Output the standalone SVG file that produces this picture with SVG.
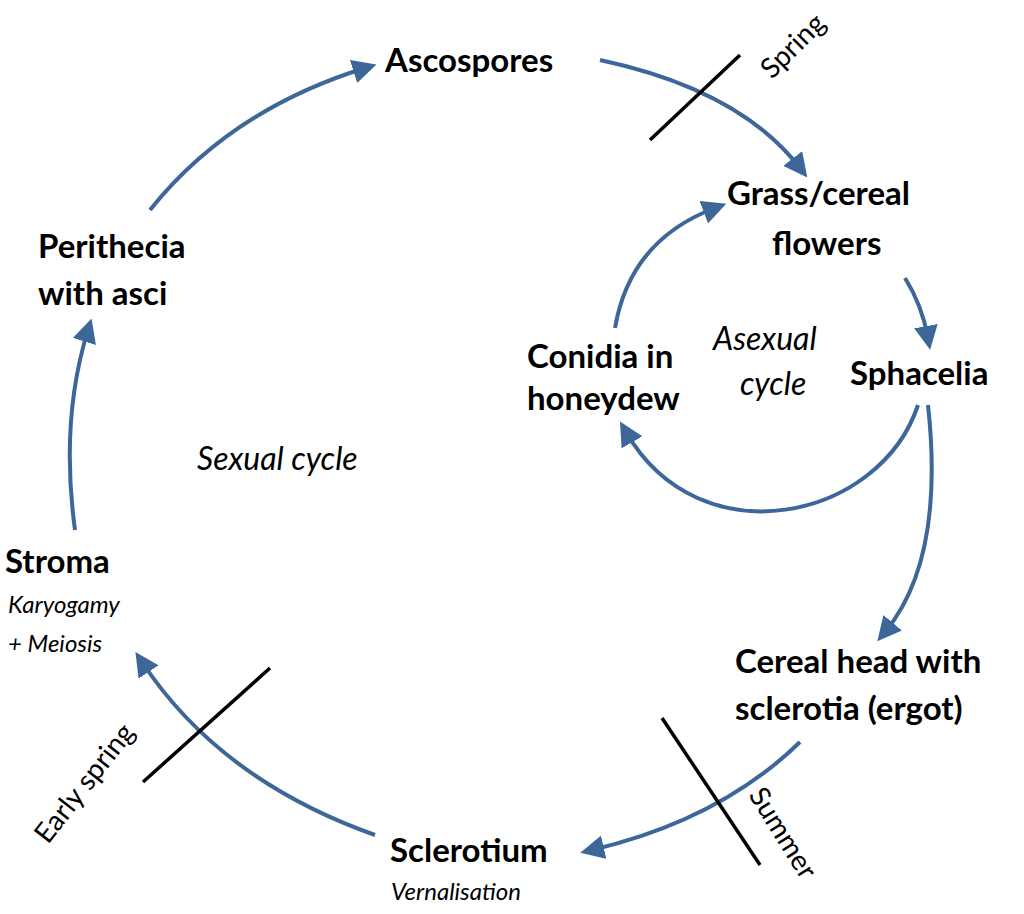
<svg xmlns="http://www.w3.org/2000/svg" width="1024" height="914" viewBox="0 0 1024 914">
<style>
.b{font-family:Lato,"Open Sans",sans-serif;font-weight:bold;font-size:33px;fill:#000}
.i{font-family:Lato,"Open Sans",sans-serif;font-style:italic;font-size:32px;fill:#000}
.s{font-family:Lato,"Open Sans",sans-serif;font-style:italic;font-size:24px;fill:#000}
.r{font-family:Lato,"Open Sans",sans-serif;font-size:28px;fill:#000}
.a{fill:none;stroke:#3d6699;stroke-width:4;marker-end:url(#m)}
.k{stroke:#000;stroke-width:3.5}
</style>
<defs><marker id="m" markerWidth="6" markerHeight="6" refX="3" refY="3" orient="auto" markerUnits="strokeWidth"><path d="M0,0 L6,3 L0,6 z" fill="#3d6699"/></marker></defs>
<g id="connectors">
<path class="a" d="M150,210 Q230,110 365,68"/>
<path class="a" d="M600,60 Q740,90 800,168"/>
<path class="a" d="M905,278 Q922,305 928,338"/>
<path class="a" d="M918,405 C880,520 700,560 626,432"/>
<path class="a" d="M615,328 Q630,240 715,208"/>
<path class="a" d="M928,405 Q945,560 885,632"/>
<path class="a" d="M800,742 Q720,820 592,850"/>
<path class="a" d="M375,835 Q220,780 142,662"/>
<path class="a" d="M75,530 Q60,420 88,330"/>
<line class="k" x1="650" y1="140" x2="740" y2="55"/>
<line class="k" x1="143" y1="782" x2="270" y2="668"/>
<line class="k" x1="662" y1="718" x2="760" y2="865"/>
</g>
<g id="ascospores"><text class="b" x="385" y="72">Ascospores</text></g>
<g id="grass"><text class="b" x="727" y="205">Grass/cereal</text><text class="b" x="772" y="255">flowers</text></g>
<g id="sphacelia"><text class="b" x="850" y="385">Sphacelia</text></g>
<g id="conidia"><text class="b" x="527" y="368">Conidia in</text><text class="b" x="527" y="410">honeydew</text></g>
<g id="asexual"><text class="i" x="713" y="350">Asexual</text><text class="i" x="740" y="395">cycle</text></g>
<g id="cereal"><text class="b" x="735" y="673">Cereal head with</text><text class="b" x="735" y="720">sclerotia (ergot)</text></g>
<g id="sclerotium"><text class="b" x="390" y="862">Sclerotium</text><text class="s" x="391" y="900">Vernalisation</text></g>
<g id="stroma"><text class="b" x="5" y="573">Stroma</text><text class="s" x="8" y="613">Karyogamy</text><text class="s" x="8" y="652">+ Meiosis</text></g>
<g id="perithecia"><text class="b" x="38" y="258">Perithecia</text><text class="b" x="38" y="305">with asci</text></g>
<g id="sexual"><text class="i" x="197" y="470">Sexual cycle</text></g>
<text class="r" transform="translate(772,80) rotate(-45)">Spring</text>
<text class="r" transform="translate(48,845) rotate(-52)">Early spring</text>
<text class="r" transform="translate(748,795) rotate(58)">Summer</text>
</svg>
